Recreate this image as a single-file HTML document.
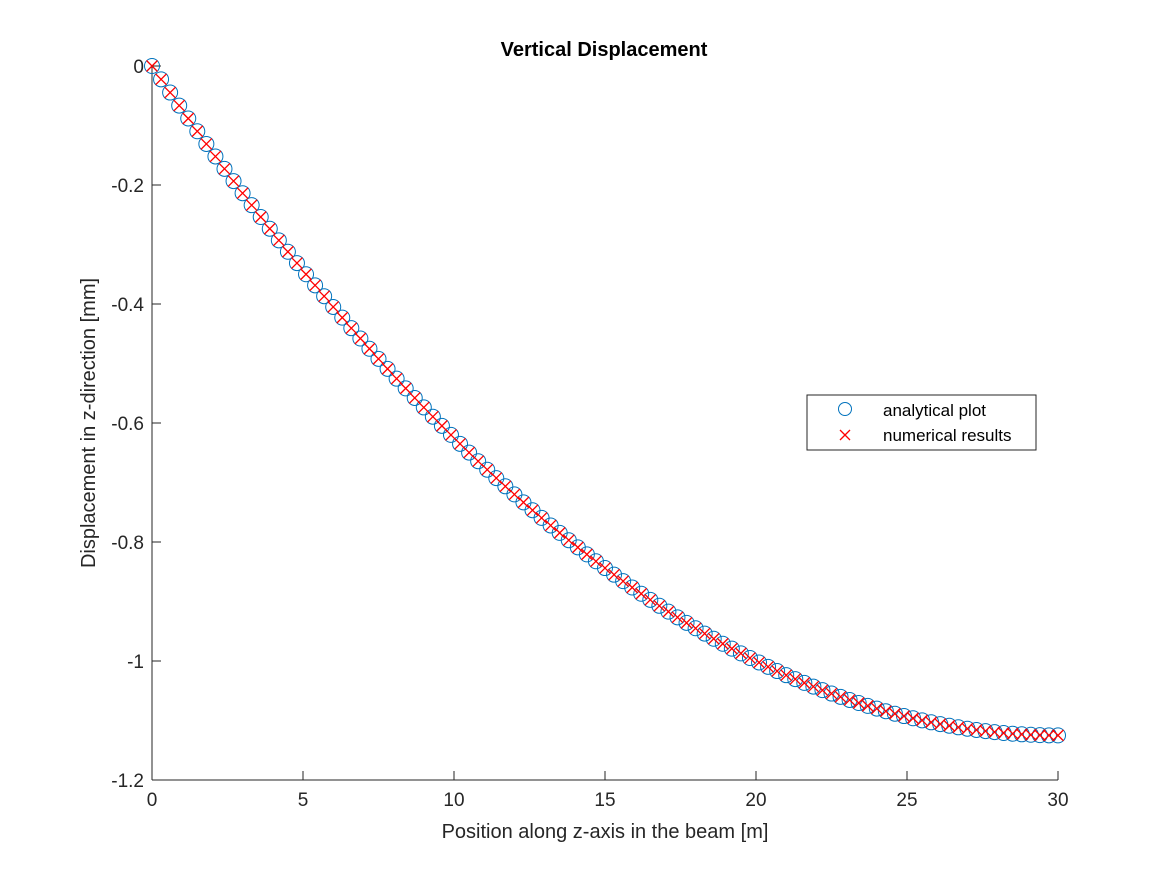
<!DOCTYPE html>
<html><head><meta charset="utf-8"><style>
body{margin:0;background:#fff}
svg text{font-family:"Liberation Sans",Arial,sans-serif;fill:#262626}
</style></head><body>
<svg id="chart" width="1167" height="875" viewBox="0 0 1167 875" xmlns="http://www.w3.org/2000/svg">
<rect width="1167" height="875" fill="#fff"/>
<g id="axes"></g>
<g id="marks"></g>
<text x="604" y="56" text-anchor="middle" font-size="20" font-weight="bold" style="fill:#000">Vertical Displacement</text>
<text x="605" y="838" text-anchor="middle" font-size="20">Position along z-axis in the beam [m]</text>
<text transform="translate(95,423) rotate(-90)" text-anchor="middle" font-size="20">Displacement in z-direction [mm]</text>
<g>
<rect x="807" y="395" width="229" height="55" fill="#fff" stroke="#262626" stroke-width="1"/>
<circle cx="845" cy="409" r="6.5" fill="none" stroke="#0072bd" stroke-width="1"/>
<path d="M840,430 L850,440 M850,430 L840,440" stroke="#ff0000" stroke-width="1.3"/>
<text x="883" y="416" font-size="17" style="fill:#000">analytical plot</text>
<text x="883" y="441" font-size="17" style="fill:#000">numerical results</text>
</g>
</svg>
<script>
const xValues = [];
for (let k = 0; k <= 100; k++) xValues.push(+(0.3 * k).toFixed(1));
const analyticalValues = [0,-0.0224,-0.0446,-0.0665,-0.0882,-0.1097,-0.1310,-0.1520,-0.1728,-0.1934,-0.2138,-0.2339,-0.2538,-0.2735,-0.2930,-0.3122,-0.3312,-0.3500,-0.3686,-0.3869,-0.4050,-0.4229,-0.4406,-0.4580,-0.4752,-0.4922,-0.5090,-0.5255,-0.5418,-0.5579,-0.5738,-0.5894,-0.6048,-0.6200,-0.6350,-0.6497,-0.6642,-0.6785,-0.6926,-0.7064,-0.7200,-0.7334,-0.7466,-0.7595,-0.7722,-0.7847,-0.7970,-0.8090,-0.8208,-0.8324,-0.8438,-0.8549,-0.8658,-0.8765,-0.8870,-0.8972,-0.9072,-0.9170,-0.9266,-0.9359,-0.9450,-0.9539,-0.9626,-0.9710,-0.9792,-0.9872,-0.9950,-1.0025,-1.0098,-1.0169,-1.0238,-1.0304,-1.0368,-1.0430,-1.0490,-1.0547,-1.0602,-1.0655,-1.0706,-1.0754,-1.0800,-1.0844,-1.0886,-1.0925,-1.0962,-1.0997,-1.1030,-1.1060,-1.1088,-1.1114,-1.1138,-1.1159,-1.1178,-1.1195,-1.1210,-1.1222,-1.1232,-1.1240,-1.1246,-1.1249,-1.1250];
const numericalValues = analyticalValues.slice();
const xTicks = [0,5,10,15,20,25,30];
const yTicks = [0,-0.2,-0.4,-0.6,-0.8,-1,-1.2];
const yTickLabels = ["0","-0.2","-0.4","-0.6","-0.8","-1","-1.2"];

const L=152,R=1058,T=66,B=780;
function sx(v){return L+(v-0)/(30-0)*(R-L);}
function sy(v){return T+(0-v)/(1.2)*(B-T);}
const NS="http://www.w3.org/2000/svg";
function mk(tag,attrs,parent){const e=document.createElementNS(NS,tag);for(const k in attrs)e.setAttribute(k,attrs[k]);parent.appendChild(e);return e;}
const axes=document.getElementById('axes'), marks=document.getElementById('marks');
let a=mk('line',{x1:L,y1:B,x2:R,y2:B,stroke:'#262626','stroke-width':1},axes);


a=mk('line',{x1:L,y1:T,x2:L,y2:B,stroke:'#262626','stroke-width':1},axes);


xTicks.forEach(v=>{
  const x=sx(v);
  mk('line',{x1:x,y1:B,x2:x,y2:B-9,stroke:'#262626'},axes);
  const t=mk('text',{x:x,y:B+26,'text-anchor':'middle','font-size':19},axes);
  t.textContent=String(v);
  
  
});
yTicks.forEach((v,i)=>{
  const y=sy(v);
  mk('line',{x1:L,y1:y,x2:L+9,y2:y,stroke:'#262626'},axes);
  const t=mk('text',{x:L-8,y:y+7,'text-anchor':'end','font-size':19},axes);
  t.textContent=yTickLabels[i];
  
  
});
xValues.forEach((xv,i)=>{
  const c=mk('circle',{cx:sx(xv),cy:sy(analyticalValues[i]),r:7.5,fill:'none',stroke:'#0072bd','stroke-width':1},marks);
  
  
});
xValues.forEach((xv,i)=>{
  const x=sx(xv),y=sy(numericalValues[i]);
  const p=mk('path',{d:`M${x-5.5},${y-5.5}L${x+5.5},${y+5.5}M${x+5.5},${y-5.5}L${x-5.5},${y+5.5}`,stroke:'#ff0000','stroke-width':1.3},marks);
  
  
});
</script>
</body></html>
